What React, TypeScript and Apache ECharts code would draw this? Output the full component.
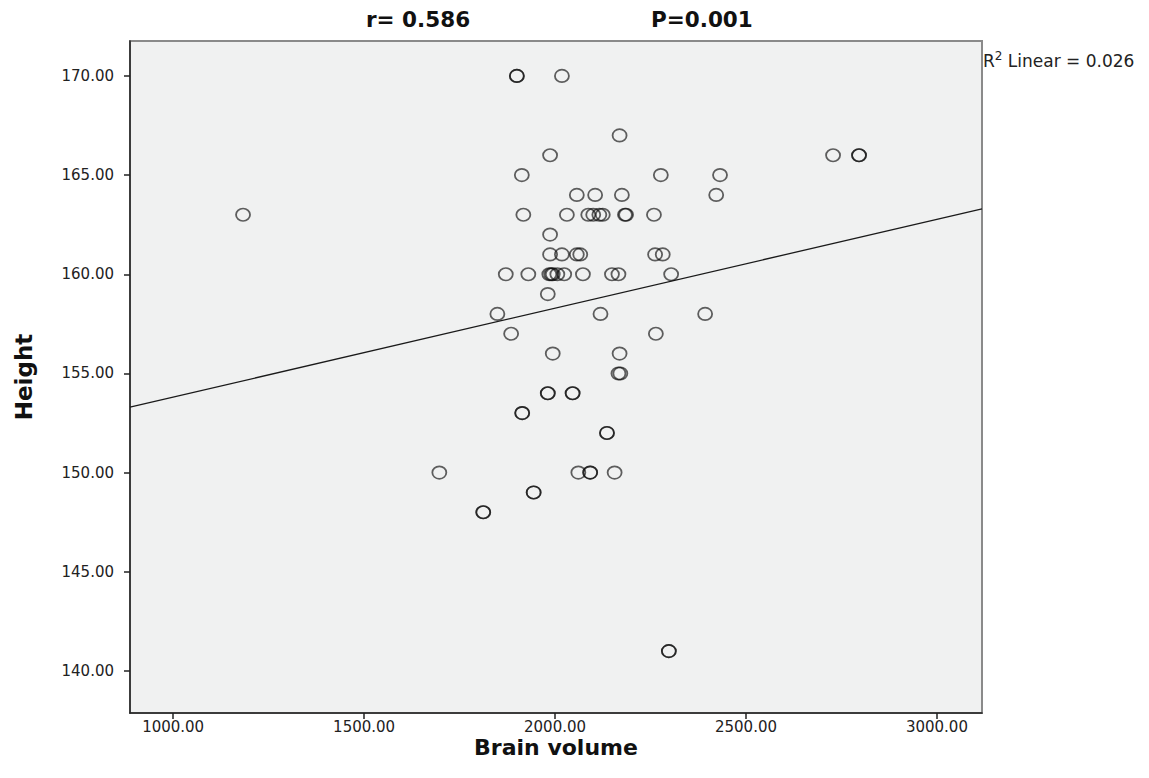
import React, { useEffect, useRef } from "react";
import * as echarts from "echarts";

// Brain volume (x) and Height (y)
const brainVolume: number[] = [
  1900, 1900, 2018,
  2169,
  1987, 2728, 2796, 2796,
  1913, 2277, 2432,
  2057, 2105, 2175, 2422,
  1183, 1917, 2031, 2087, 2100, 2116, 2125, 2183, 2186, 2259,
  1987,
  1987, 2018, 2057, 2066, 2262, 2282,
  1871, 1930, 1985, 1990, 1994, 2006, 2024, 2073, 2149, 2166, 2304,
  1981,
  1849, 2119, 2393,
  1885, 2264,
  1994, 2169,
  2166, 2171,
  1981, 1981, 2046, 2046,
  1914, 1914,
  2136, 2136,
  1697, 2061, 2092, 2092, 2156,
  1944, 1944,
  1812, 1812,
  2298, 2298,
];
const height: number[] = [
  170, 170, 170,
  167,
  166, 166, 166, 166,
  165, 165, 165,
  164, 164, 164, 164,
  163, 163, 163, 163, 163, 163, 163, 163, 163, 163,
  162,
  161, 161, 161, 161, 161, 161,
  160, 160, 160, 160, 160, 160, 160, 160, 160, 160, 160,
  159,
  158, 158, 158,
  157, 157,
  156, 156,
  155, 155,
  154, 154, 154, 154,
  153, 153,
  152, 152,
  150, 150, 150, 150, 150,
  149, 149,
  148, 148,
  141, 141,
];

// Linear fit line endpoints (as drawn)
const fitX: number[] = [887, 3118];
const fitY: number[] = [153.3, 163.3];

const xTicks: number[] = [1000, 1500, 2000, 2500, 3000];
const yTicks: number[] = [140, 145, 150, 155, 160, 165, 170];
const xRange: number[] = [887, 3118];
const yRange: number[] = [137.88, 171.76];

const titleR = "r= 0.586";
const titleP = "P=0.001";
const r2Label = "0.026";

const ELLIPSE = "path://M 0 -1 A 1 1 0 1 1 0 1 A 1 1 0 1 1 0 -1 Z";

export default function App() {
  const ref = useRef<HTMLDivElement>(null);
  useEffect(() => {
    if (!ref.current) return;
    const chart = echarts.init(ref.current, null, { renderer: "svg" });
    const font = "'DejaVu Sans', Verdana, sans-serif";
    chart.setOption({
      animation: false,
      backgroundColor: "#ffffff",
      grid: {
        left: 130,
        top: 41,
        width: 852,
        height: 672,
        show: true,
        backgroundColor: "#f0f1f1",
        borderColor: "#8a8a8a",
        borderWidth: 2,
      },
      xAxis: {
        type: "value",
        min: xRange[0],
        max: xRange[1],
        name: "Brain volume",
        nameLocation: "middle",
        nameGap: 23,
        nameMoveOverlap: false,
        nameTextStyle: { fontFamily: font, fontSize: 22, fontWeight: "bold", color: "#111" },
        axisLine: { show: true, onZero: false, lineStyle: { color: "#222", width: 1.5 } },
        axisTick: { show: true, length: 6, customValues: xTicks, lineStyle: { color: "#222", width: 1.5 } },
        axisLabel: {
          customValues: xTicks,
          formatter: (v: number) => v.toFixed(2),
          fontFamily: font,
          fontSize: 15,
          color: "#222",
          margin: 6,
        },
        splitLine: { show: false },
      },
      yAxis: {
        type: "value",
        min: yRange[0],
        max: yRange[1],
        name: "Height",
        nameLocation: "middle",
        nameGap: 95,
        nameMoveOverlap: false,
        nameRotate: 90,
        nameTextStyle: { fontFamily: font, fontSize: 23, fontWeight: "bold", color: "#111" },
        axisLine: { show: true, onZero: false, lineStyle: { color: "#222", width: 1.5 } },
        axisTick: { show: true, length: 6, customValues: yTicks, lineStyle: { color: "#222", width: 1.5 } },
        axisLabel: {
          customValues: yTicks,
          formatter: (v: number) => v.toFixed(2),
          fontFamily: font,
          fontSize: 15,
          color: "#222",
          margin: 16,
        },
        splitLine: { show: false },
      },
      graphic: [
        {
          type: "text",
          left: 366,
          top: 8,
          style: { text: titleR, font: `bold 21.5px ${font}`, fill: "#111" },
        },
        {
          type: "text",
          left: 651,
          top: 8,
          style: { text: titleP, font: `bold 21.5px ${font}`, fill: "#111" },
        },
        {
          type: "text",
          left: 983,
          top: 50,
          style: {
            text: `R{sup|2} Linear = ${r2Label}`,
            font: `17px ${font}`,
            fill: "#222",
            rich: {
              sup: { fontSize: 12, fontFamily: font, verticalAlign: "top", padding: [0, 0, 9, 0] },
            },
          },
        },
      ],
      series: [
        {
          type: "line",
          data: fitX.map((x, i) => [x, fitY[i]]),
          showSymbol: false,
          symbol: "none",
          lineStyle: { color: "#1a1a1a", width: 1.3 },
          z: 2,
        },
        {
          type: "scatter",
          data: brainVolume.map((x, i) => [x, height[i]]),
          symbol: ELLIPSE,
          symbolSize: [14, 12.5],
          itemStyle: { color: "rgba(0,0,0,0)", borderColor: "rgba(10,10,10,0.8)", borderWidth: 1.7 },
          z: 3,
        },
      ],
    });
    return () => chart.dispose();
  }, []);
  return (
    <div
      ref={ref}
      style={{ position: "fixed", left: 0, top: 0, width: 1149, height: 778 }}
    />
  );
}
